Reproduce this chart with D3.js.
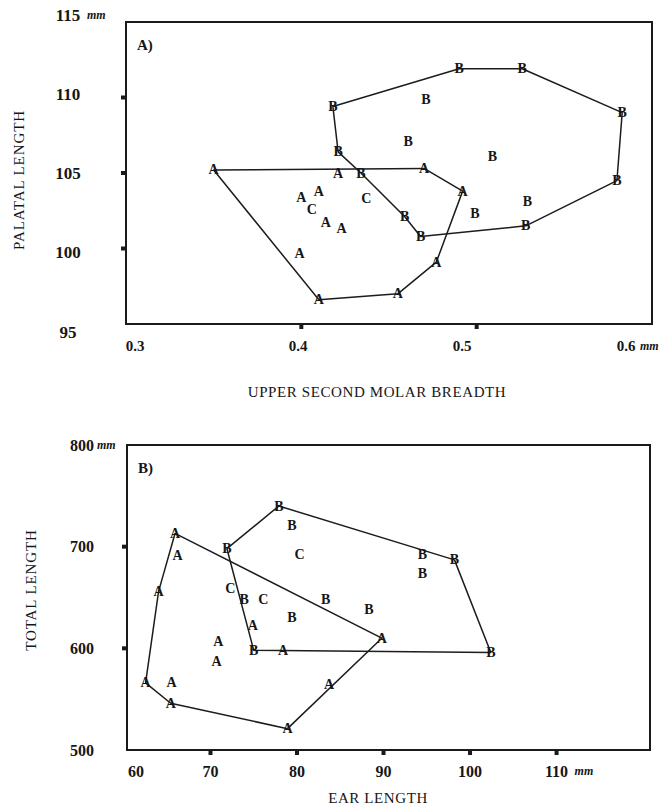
<!DOCTYPE html>
<html>
<head>
<meta charset="utf-8">
<script src="https://cdn.jsdelivr.net/npm/d3@7"></script>
<style>
body { margin: 0; background: #fff; }
text { font-family: "Liberation Serif", "Times New Roman", serif; fill: #161616; }
</style>
</head>
<body>
<script>
// Panel A) upper second molar breadth vs palatal length (mm)
var hullA_A = [[0.350,105.2],[0.470,105.3],[0.492,103.8],[0.477,99.1],[0.455,97.0],[0.410,96.6]];
var ptsA_A  = [[0.421,105.0],[0.400,103.4],[0.410,103.8],[0.414,101.7],[0.423,101.3],[0.399,99.7]];
var hullA_B = [[0.418,109.4],[0.490,111.9],[0.526,111.9],[0.583,109.0],[0.580,104.5],[0.528,101.5],
               [0.468,100.8],[0.459,102.1],[0.434,105.0],[0.421,106.4]];
var ptsA_B  = [[0.471,109.9],[0.461,107.1],[0.509,106.1],[0.529,103.1],[0.499,102.3]];
var ptsA_C  = [[0.406,102.6],[0.437,103.3]];
var xTicksA = [0.3, 0.4, 0.5, 0.6];
var yTicksA = [95, 100, 105, 110, 115];

// Panel B) ear length vs total length (mm)
var hullB_A = [[65.9,713],[89.8,610],[78.9,521],[65.4,546],[62.5,566],[64.0,656]];
var ptsB_A  = [[66.2,691],[74.9,622],[70.9,607],[70.7,587],[65.5,566],[78.4,598],[83.7,564]];
var hullB_B = [[71.9,698],[77.9,740],[98.2,687],[102.4,596],[75.0,598]];
var ptsB_B  = [[73.9,648],[79.4,721],[94.5,692],[94.5,674],[83.3,648],[88.3,638],[79.4,630]];
var ptsB_C  = [[80.3,692],[72.3,659],[76.1,648]];
var xTicksB = [60, 70, 80, 90, 100, 110];
var yTicksB = [500, 600, 700, 800];

var svg = d3.select("body").append("svg")
            .attr("width", 668)
            .attr("height", 810);

svg.append("rect").attr("width", 668).attr("height", 810).attr("fill", "#fff");

function drawPanel(p) {
  var x = d3.scaleLinear().domain(p.xDomain).range(p.xRange);
  var y = d3.scaleLinear().domain(p.yDomain).range(p.yRange);
  var g = svg.append("g");
  var x0 = p.xRange[0], x1 = p.xRange[1], yb = p.yRange[0], yt = p.yRange[1];

  // frame
  g.append("rect")
   .attr("x", x0).attr("y", yt)
   .attr("width", x1 - x0).attr("height", yb - yt)
   .attr("fill", "none").attr("stroke", "#1a1a1a").attr("stroke-width", 2);

  // little square tick marks outside the frame
  g.selectAll(".xt").data(p.xMarks).enter().append("rect")
   .attr("x", function(d) { return x(d) - 2; })
   .attr("y", yb + 1).attr("width", 4).attr("height", 4).attr("fill", "#1a1a1a");
  g.selectAll(".yt").data(p.yMarks).enter().append("rect")
   .attr("x", x0 - 5).attr("y", function(d) { return y(d) - 2; })
   .attr("width", 4).attr("height", 4).attr("fill", "#1a1a1a");

  // tick labels
  var lx = p.xLabelScale || x;
  g.selectAll(".xl").data(p.xTicks).enter().append("text")
   .attr("x", function(d) { return Math.max(lx(d), x0 + 9); })
   .attr("y", p.xLabelY)
   .attr("text-anchor", "middle").attr("dominant-baseline", "central")
   .attr("font-size", p.xLabelSize).attr("font-weight", "bold")
   .text(function(d) { return d; });
  var ly = p.yLabelScale || y;
  g.selectAll(".yl").data(p.yTicks).enter().append("text")
   .attr("x", p.yLabelX)
   .attr("y", function(d) { return ly(d); })
   .attr("text-anchor", "middle").attr("dominant-baseline", "central")
   .attr("font-size", p.yLabelSize).attr("font-weight", "bold")
   .text(function(d) { return d; });

  // unit labels
  var xl = p.xTicks[p.xTicks.length - 1];
  g.append("text").attr("x", Math.max(lx(xl), x0) + p.xUnitDx).attr("y", p.xLabelY)
   .attr("dominant-baseline", "central").attr("font-size", 12).attr("font-weight", "bold")
   .attr("font-style", "italic").text("mm");
  var yl = p.yTicks[p.yTicks.length - 1];
  g.append("text").attr("x", p.yLabelX + p.yUnitDx).attr("y", ly(yl))
   .attr("dominant-baseline", "central").attr("font-size", 12).attr("font-weight", "bold")
   .attr("font-style", "italic").text("mm");

  // axis titles
  g.append("text").attr("x", p.xTitle[0]).attr("y", p.xTitle[1])
   .attr("text-anchor", "middle").attr("dominant-baseline", "central")
   .attr("font-size", 15).attr("letter-spacing", 0.6).text(p.xTitleText);
  g.append("text")
   .attr("transform", "translate(" + p.yTitle[0] + "," + p.yTitle[1] + ") rotate(-90)")
   .attr("text-anchor", "middle").attr("dominant-baseline", "central")
   .attr("font-size", 15).attr("letter-spacing", 0.9).text(p.yTitleText);

  // panel tag
  g.append("text").attr("x", x0 + 11).attr("y", yt + 23)
   .attr("dominant-baseline", "central").attr("font-size", 15).attr("font-weight", "bold")
   .text(p.tag);

  // hulls
  var line = d3.line().x(function(d) { return x(d[0]); }).y(function(d) { return y(d[1]); })
               .curve(d3.curveLinearClosed);
  p.hulls.forEach(function(h) {
    g.append("path").attr("d", line(h)).attr("fill", "none")
     .attr("stroke", "#1c1c1c").attr("stroke-width", 1.5).attr("stroke-linejoin", "round");
  });

  // letter markers
  p.groups.forEach(function(grp) {
    g.selectAll(null).data(grp.pts).enter().append("text")
     .attr("x", function(d) { return x(d[0]); })
     .attr("y", function(d) { return y(d[1]); })
     .attr("text-anchor", "middle").attr("dominant-baseline", "central")
     .attr("font-size", 14).attr("font-weight", "bold")
     .text(grp.label);
  });
}

drawPanel({
  tag: "A)",
  xDomain: [0.3, 0.6], xRange: [126, 652],
  yDomain: [95, 115], yRange: [324, 22],
  xTicks: xTicksA, yTicks: yTicksA,
  xMarks: [0.4, 0.5], yMarks: [100, 105, 110],
  xLabelScale: d3.scaleLinear().domain([0.3, 0.6]).range([134, 626]),
  yLabelScale: d3.scaleLinear().domain([95, 115]).range([332, 15]),
  xLabelSize: 15, yLabelSize: 17,
  xLabelY: 346, yLabelX: 68,
  xUnitDx: 14, yUnitDx: 19,
  xTitle: [377, 392], xTitleText: "UPPER SECOND MOLAR BREADTH",
  yTitle: [19, 180], yTitleText: "PALATAL LENGTH",
  hulls: [hullA_A, hullA_B],
  groups: [
    { label: "A", pts: hullA_A.concat(ptsA_A) },
    { label: "B", pts: hullA_B.concat(ptsA_B) },
    { label: "C", pts: ptsA_C }
  ]
});

drawPanel({
  tag: "B)",
  xDomain: [60.35, 120.8], xRange: [127, 650],
  yDomain: [500, 800], yRange: [750, 445],
  xTicks: xTicksB, yTicks: yTicksB,
  xMarks: [70, 80, 90, 100, 110], yMarks: [600, 700],
  xLabelSize: 16, yLabelSize: 16,
  xLabelY: 771, yLabelX: 82,
  xUnitDx: 18, yUnitDx: 15,
  xTitle: [378, 798], xTitleText: "EAR  LENGTH",
  yTitle: [31, 590], yTitleText: "TOTAL  LENGTH",
  hulls: [hullB_A, hullB_B],
  groups: [
    { label: "A", pts: hullB_A.concat(ptsB_A) },
    { label: "B", pts: hullB_B.concat(ptsB_B) },
    { label: "C", pts: ptsB_C }
  ]
});
</script>
</body>
</html>
